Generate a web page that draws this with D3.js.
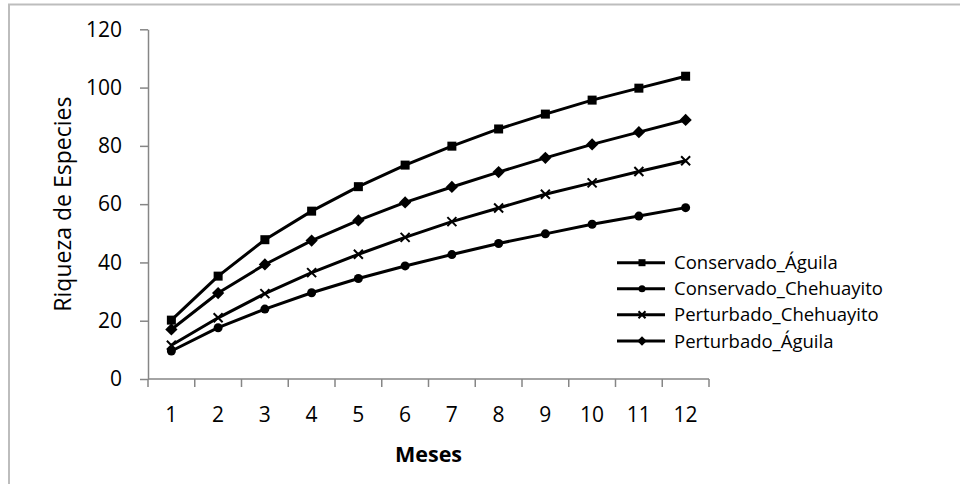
<!DOCTYPE html>
<html>
<head>
<meta charset="utf-8">
<script src="https://cdn.jsdelivr.net/npm/d3@7"></script>
<style>
  body { margin: 0; background: #fff; }
  svg text { font-family: "Open Sans", sans-serif; fill: #000; }
</style>
</head>
<body>
<div id="chart"></div>
<script>
var meses = ["1", "2", "3", "4", "5", "6", "7", "8", "9", "10", "11", "12"];
var yTicks = [0, 20, 40, 60, 80, 100, 120];
var seriesNames = ["Conservado_Águila", "Conservado_Chehuayito", "Perturbado_Chehuayito", "Perturbado_Águila"];
var conservadoAguila = [20.2, 35.3, 47.8, 57.6, 66, 73.4, 79.9, 85.8, 90.9, 95.7, 99.8, 103.9];
var conservadoChehuayito = [9.6, 17.6, 24, 29.6, 34.5, 38.8, 42.7, 46.5, 49.8, 53.1, 55.9, 58.8];
var perturbadoChehuayito = [11.6, 21, 29.3, 36.5, 42.8, 48.6, 54, 58.7, 63.4, 67.3, 71.2, 74.9];
var perturbadoAguila = [17, 29.5, 39.3, 47.5, 54.4, 60.6, 65.9, 71, 75.9, 80.5, 84.7, 88.9];
var markers = ["square", "circle", "cross", "diamond"];

function init() {
    var w = 960, h = 484;
    var left = 148, right = 709, top = 29.3, bottom = 379;
    var allValues = [conservadoAguila, conservadoChehuayito, perturbadoChehuayito, perturbadoAguila];

    var svg = d3.select("#chart").append("svg")
        .attr("width", w)
        .attr("height", h);

    // frame
    svg.append("line").attr("x1", 8).attr("x2", w).attr("y1", 4.5).attr("y2", 4.5)
        .attr("stroke", "#bdbdbd").attr("stroke-width", 2);
    svg.append("line").attr("x1", 9).attr("x2", 9).attr("y1", 4).attr("y2", h)
        .attr("stroke", "#bdbdbd").attr("stroke-width", 2);

    var x = d3.scaleBand().domain(meses).range([left, right]);
    var y = d3.scaleLinear().domain([0, 120]).range([bottom, top]);

    // y axis
    var yAxis = svg.append("g")
        .attr("transform", "translate(" + left + ",0)")
        .call(d3.axisLeft(y).tickValues(yTicks).tickSize(8).tickPadding(18).tickSizeOuter(0));
    yAxis.selectAll("path, line").attr("stroke", "#868686").attr("stroke-width", 1.5);
    yAxis.selectAll("text").style("font-size", "21px").attr("fill", "#000")
        .style("font-family", "'Open Sans', sans-serif");

    // x axis
    var xg = svg.append("g");
    xg.append("line").attr("x1", left).attr("x2", right).attr("y1", bottom).attr("y2", bottom)
        .attr("stroke", "#868686").attr("stroke-width", 1.5);
    var edges = meses.map(function(d) { return x(d); }).concat([right]);
    xg.selectAll(".tk").data(edges).enter().append("line")
        .attr("x1", function(d) { return d; })
        .attr("x2", function(d) { return d; })
        .attr("y1", bottom).attr("y2", bottom + 8)
        .attr("stroke", "#868686").attr("stroke-width", 1.5);
    xg.selectAll(".lbl").data(meses).enter().append("text")
        .attr("x", function(d) { return x(d) + x.bandwidth() / 2; })
        .attr("y", 422)
        .attr("text-anchor", "middle")
        .style("font-size", "21px")
        .text(function(d) { return d; });

    // axis titles
    svg.append("text")
        .attr("x", (left + right) / 2).attr("y", 462)
        .attr("text-anchor", "middle")
        .style("font-size", "21.5px").style("font-weight", "bold")
        .text("Meses");
    svg.append("text")
        .attr("transform", "translate(71," + ((top + bottom) / 2) + ") rotate(-90)")
        .attr("text-anchor", "middle")
        .style("font-size", "23px")
        .text("Riqueza de Especies");

    var line = d3.line()
        .x(function(d, i) { return x(meses[i]) + x.bandwidth() / 2; })
        .y(function(d) { return y(d); });

    function drawMarker(g, type, cx, cy, s) {
        if (type == "square") {
            g.append("rect").attr("x", cx - s / 2).attr("y", cy - s / 2)
                .attr("width", s).attr("height", s).attr("fill", "#000");
        } else if (type == "circle") {
            g.append("circle").attr("cx", cx).attr("cy", cy).attr("r", s / 2).attr("fill", "#000");
        } else if (type == "diamond") {
            var r = s * 0.68;
            g.append("path")
                .attr("d", "M" + cx + "," + (cy - r) + "L" + (cx + r) + "," + cy + "L" + cx + "," + (cy + r) + "L" + (cx - r) + "," + cy + "Z")
                .attr("fill", "#000");
        } else {
            var q = s / 2;
            g.append("path")
                .attr("d", "M" + (cx - q) + "," + (cy - q) + "L" + (cx + q) + "," + (cy + q) + "M" + (cx + q) + "," + (cy - q) + "L" + (cx - q) + "," + (cy + q))
                .attr("stroke", "#000").attr("stroke-width", 2).attr("fill", "none");
        }
    }

    allValues.forEach(function(vals, k) {
        var g = svg.append("g");
        g.append("path")
            .datum(vals)
            .attr("d", line)
            .attr("fill", "none")
            .attr("stroke", "#000")
            .attr("stroke-width", 3)
            .attr("stroke-linejoin", "round");
        vals.forEach(function(v, i) {
            drawMarker(g, markers[k], x(meses[i]) + x.bandwidth() / 2, y(v), 9);
        });
    });

    // legend
    var rowY = [262.7, 288.7, 314.7, 341];
    seriesNames.forEach(function(name, k) {
        var g = svg.append("g");
        g.append("line").attr("x1", 617).attr("x2", 665).attr("y1", rowY[k]).attr("y2", rowY[k])
            .attr("stroke", "#000").attr("stroke-width", 3);
        drawMarker(g, markers[k], 642, rowY[k], 7);
        g.append("text")
            .attr("x", 674).attr("y", rowY[k] + 6.5)
            .style("font-size", "18.5px")
            .text(name);
    });
}
window.onload = init;
</script>
</body>
</html>
